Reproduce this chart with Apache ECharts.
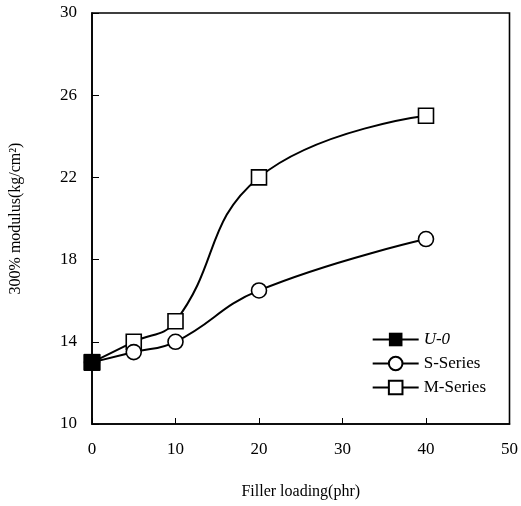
<!DOCTYPE html>
<html><head><meta charset="utf-8">
<script src="https://cdn.jsdelivr.net/npm/echarts@6/dist/echarts.min.js"></script>
<style>html,body{margin:0;padding:0;background:#fff}#c{width:521px;height:506px}</style>
</head><body><div id="c"></div>
<script>
const xU0 = [0];
const yU0 = [13];
const xS = [0, 5, 10, 20, 40];
const yS = [13, 13.5, 14, 16.5, 19];
const xM = [0, 5, 10, 20, 40];
const yM = [13, 14, 15, 22, 25];
const xTicks = [0, 10, 20, 30, 40, 50];
const yTicks = [10, 14, 18, 22, 26, 30];

const FONT = '"Liberation Serif", "DejaVu Serif", serif';
const chart = echarts.init(document.getElementById('c'));
const zip = (a, b) => a.map((v, i) => [v, b[i]]);
chart.setOption({
  animation: false,
  backgroundColor: '#fff',
  grid: { left: 90, right: 11, top: 13, bottom: 82, show: true, borderColor: '#000', borderWidth: 1.6 },
  legend: {
    right: 30, top: 326, orient: 'vertical', itemWidth: 46, itemHeight: 17, itemGap: 7,
    textStyle: { fontFamily: FONT, fontSize: 17, color: '#000' },
    data: [
      { name: 'U-0', textStyle: { fontStyle: 'italic' } },
      { name: 'S-Series' },
      { name: 'M-Series' }
    ]
  },
  xAxis: {
    type: 'value', min: xTicks[0], max: xTicks[xTicks.length - 1], interval: 10,
    name: 'Filler loading(phr)', nameLocation: 'middle', nameGap: 60,
    nameTextStyle: { fontFamily: FONT, fontSize: 16, color: '#000' },
    axisLine: { lineStyle: { color: '#000', width: 1.6 } },
    axisTick: { inside: true, length: 6, lineStyle: { color: '#000' } },
    axisLabel: { fontFamily: FONT, fontSize: 17, color: '#000', margin: 17 },
    splitLine: { show: false }
  },
  yAxis: {
    type: 'value', min: yTicks[0], max: yTicks[yTicks.length - 1], interval: 4,
    name: '300% modulus(kg/cm²)', nameLocation: 'middle', nameGap: 68,
    nameTextStyle: { fontFamily: FONT, fontSize: 16, color: '#000' },
    axisLine: { lineStyle: { color: '#000', width: 1.6 } },
    axisTick: { inside: true, length: 7, lineStyle: { color: '#000' } },
    axisLabel: { fontFamily: FONT, fontSize: 17, color: '#000', margin: 15 },
    splitLine: { show: false }
  },
  series: [
    { name: 'M-Series', type: 'line', data: zip(xM, yM), smooth: 0.45,
      symbol: 'rect', symbolSize: 15, z: 3,
      lineStyle: { color: '#000', width: 2 },
      itemStyle: { color: '#fff', borderColor: '#000', borderWidth: 1.6 } },
    { name: 'S-Series', type: 'line', data: zip(xS, yS), smooth: 0.45,
      symbol: 'circle', symbolSize: 15, z: 3,
      lineStyle: { color: '#000', width: 2 },
      itemStyle: { color: '#fff', borderColor: '#000', borderWidth: 1.6 } },
    { name: 'U-0', type: 'line', data: zip(xU0, yU0),
      symbol: 'rect', symbolSize: 16, z: 4,
      lineStyle: { color: '#000', width: 2 },
      itemStyle: { color: '#000', borderColor: '#000' } }
  ]
});
</script></body></html>
